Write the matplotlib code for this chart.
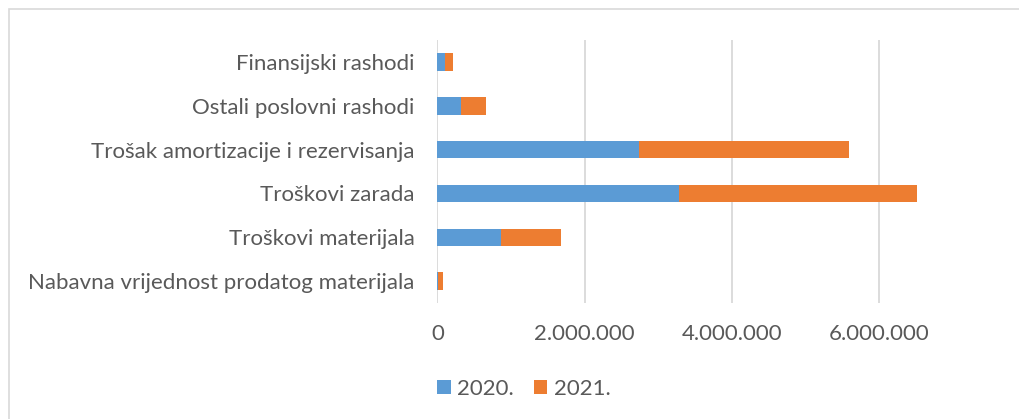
import matplotlib
matplotlib.use('Agg')
import matplotlib.pyplot as plt
from matplotlib.patches import Rectangle
from matplotlib.ticker import FuncFormatter, MultipleLocator

categories = [
    'Nabavna vrijednost prodatog materijala',
    'Troškovi materijala',
    'Troškovi zarada',
    'Trošak amortizacije i rezervisanja',
    'Ostali poslovni rashodi',
    'Finansijski rashodi',
]
values_2020 = [10000, 867000, 3277000, 2742000, 319000, 106000]
values_2021 = [69000, 807000, 3234000, 2845000, 340000, 101000]

BLUE = '#5B9BD5'
ORANGE = '#ED7D31'
TEXT = '#595959'
GRID = '#D9D9D9'

plt.rcParams['font.family'] = ['Lato', 'DejaVu Sans']

fig = plt.figure(figsize=(10.19, 4.19), dpi=100)
ax = fig.add_axes([0.4293, 0.2768, 0.5057, 0.6277])

# outer chart frame (only top/left visible in the crop)
fig.patches.append(Rectangle((9 / 1019, -0.1), 1.2, 0.1 + (419 - 9.5) / 419,
                             transform=fig.transFigure, fill=False,
                             edgecolor=GRID, linewidth=1.2))

y = range(len(categories))
ax.barh(y, values_2020, height=0.4, color=BLUE, label='2020.')
ax.barh(y, values_2021, height=0.4, left=values_2020, color=ORANGE, label='2021.')

ax.set_xlim(0, 7000000)
ax.set_ylim(-0.5, len(categories) - 0.5)
ax.xaxis.set_major_locator(MultipleLocator(2000000))
ax.xaxis.set_major_formatter(FuncFormatter(lambda v, p: f'{int(v):,}'.replace(',', '.')))
ax.set_yticks(list(y))
ax.set_yticklabels(categories)

ax.grid(axis='x', color=GRID, linewidth=1.3)
ax.set_axisbelow(True)
for s in ax.spines.values():
    s.set_visible(False)
ax.tick_params(length=0, labelsize=16, colors=TEXT)
ax.tick_params(axis='x', pad=15)
ax.tick_params(axis='y', pad=16.5)

ax.legend(loc='center', bbox_to_anchor=(524 / 1019, 30 / 419), bbox_transform=fig.transFigure,
          ncol=2, frameon=False, fontsize=16, labelcolor=TEXT,
          handlelength=0.6, handleheight=0.6, handletextpad=0.3, columnspacing=0.9)

fig.savefig('out.png', dpi=100, facecolor='white')
